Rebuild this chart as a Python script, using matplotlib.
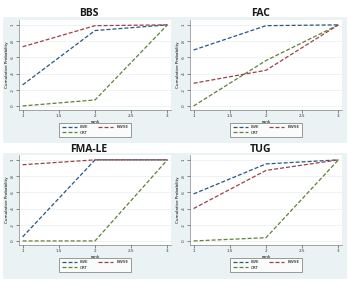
import matplotlib
matplotlib.use("Agg")
import matplotlib.pyplot as plt

# ranks and cumulative probabilities
ranks = [1, 2, 3]
titles = ["BBS", "FAC", "FMA-LE", "TUG"]
lwe = [[0.26, 0.93, 1.0], [0.69, 0.99, 1.0], [0.05, 1.0, 1.0], [0.58, 0.95, 1.0]]
bwse = [[0.73, 0.99, 1.0], [0.28, 0.44, 1.0], [0.94, 1.0, 1.0], [0.40, 0.87, 1.0]]
crt = [[0.0, 0.074, 1.0], [0.0, 0.56, 1.0], [0.0, 0.0, 1.0], [0.0, 0.04, 1.0]]
xticks = [1, 1.5, 2, 2.5, 3]
xtick_labels = ["1", "1.5", "2", "2.5", "3"]
yticks = [0, 0.2, 0.4, 0.6, 0.8, 1]
ytick_labels = ["0", ".2", ".4", ".6", ".8", "1"]

W, H = 350, 284
region_bg = "#EAF2F3"
c_lwe, c_bwse, c_crt = "#2A5680", "#9A4048", "#5F8038"

fig = plt.figure(figsize=(W / 100, H / 100), dpi=100, facecolor="white")


def px_rect(x0, y0, x1, y1):
    """pixel box (top-left origin) -> figure fraction rect"""
    return [x0 / W, 1 - y1 / H, (x1 - x0) / W, (y1 - y0) / H]


# panel layout in pixels: grey region, title y, plot box, legend centre
panels = [
    dict(region=(3, 17, 175, 143), title_y=13, box=(19, 20, 171, 110), leg=(95, 130)),
    dict(region=(175, 17, 347, 143), title_y=13, box=(190, 20, 342, 110), leg=(266, 130)),
    dict(region=(3, 153, 175, 279), title_y=149, box=(19, 155, 171, 245), leg=(95, 265)),
    dict(region=(175, 153, 347, 279), title_y=149, box=(190, 155, 342, 245), leg=(266, 265)),
]

for i, p in enumerate(panels):
    x0, y0, x1, y1 = p["region"]
    bg = fig.add_axes(px_rect(*p["region"]), zorder=-1)
    bg.set_facecolor(region_bg)
    bg.set_xticks([])
    bg.set_yticks([])
    for s in bg.spines.values():
        s.set_visible(False)

    fig.text((x0 + x1) / 2 / W, 1 - p["title_y"] / H, titles[i], ha="center", va="center",
             fontsize=7.5, fontweight="bold", color="#1a1a1a", family="Open Sans")

    ax = fig.add_axes(px_rect(*p["box"]))
    ax.set_facecolor("white")
    ax.plot(ranks, lwe[i], color=c_lwe, lw=0.9, dashes=(3.2, 1.6), label="LWE")
    ax.plot(ranks, crt[i], color=c_crt, lw=0.9, dashes=(3.2, 1.6), label="CRT")
    ax.plot(ranks, bwse[i], color=c_bwse, lw=0.9, dashes=(3.2, 1.6), label="BWSE")
    ax.set_xlim(0.95, 3.05)
    ax.set_ylim(-0.05, 1.06)
    ax.set_xticks(xticks)
    ax.set_xticklabels(xtick_labels)
    ax.set_yticks(yticks)
    ax.set_yticklabels(ytick_labels, rotation=90, va="center")
    ax.tick_params(labelsize=3, length=2, width=0.4, pad=1, colors="#333333")
    ax.grid(axis="y", color="#E4EAEC", lw=0.4)
    ax.set_axisbelow(True)
    for s in ["top", "right"]:
        ax.spines[s].set_visible(False)
    for s in ["left", "bottom"]:
        ax.spines[s].set_color("#666666")
        ax.spines[s].set_linewidth(0.4)
    ax.set_xlabel("rank", fontsize=3, labelpad=1)
    ax.set_ylabel("Cumulative Probability", fontsize=3, labelpad=1.5)

    lx, ly = p["leg"]
    leg = ax.legend(loc="center", bbox_to_anchor=(lx / W, 1 - ly / H),
                    bbox_transform=fig.transFigure, ncol=2, fontsize=3,
                    frameon=True, fancybox=False, handlelength=3.6,
                    columnspacing=2.2, handletextpad=0.8, borderpad=0.6,
                    labelspacing=0.4)
    leg.get_frame().set_edgecolor("#555555")
    leg.get_frame().set_linewidth(0.5)

fig.savefig("out.png", dpi=100, facecolor="white")
